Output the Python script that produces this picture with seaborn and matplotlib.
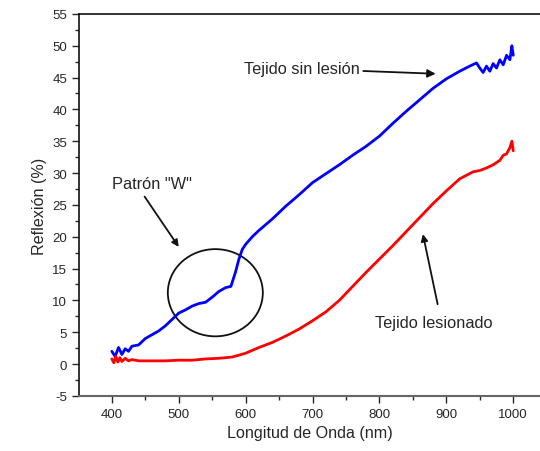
import matplotlib
matplotlib.use("Agg")
import matplotlib.pyplot as plt
from matplotlib.patches import Ellipse
from matplotlib.ticker import MultipleLocator
import seaborn as sns
import pandas as pd

# Tejido sin lesión (blue)
blue_nm = [400, 405, 410, 415, 420, 425, 430, 440, 450, 460, 470, 480, 490, 500,
           510, 520, 530, 540, 550, 560, 570, 578, 585, 590, 595, 600, 610, 620,
           640, 660, 680, 700, 720, 740, 760, 780, 800, 820, 840, 860, 880, 900,
           920, 935, 945, 950, 955, 960, 965, 970, 975, 980, 985, 990, 995, 998, 1000]
blue_val = [2.0, 1.2, 2.6, 1.5, 2.4, 2.0, 2.8, 3.0, 4.0, 4.6, 5.2, 6.0, 7.0, 8.0,
            8.5, 9.1, 9.5, 9.7, 10.5, 11.4, 12.0, 12.2, 14.5, 16.5, 18.0, 18.8, 20.0, 21.0,
            22.8, 24.8, 26.6, 28.5, 29.9, 31.3, 32.8, 34.2, 35.8, 37.8, 39.7, 41.5, 43.3, 44.8,
            46.0, 46.8, 47.3, 46.5, 45.8, 46.8, 46.0, 47.2, 46.5, 47.8, 47.0, 48.5, 47.8, 50.0, 48.5]

# Tejido lesionado (red)
red_nm = [400, 403, 406, 409, 412, 415, 420, 425, 430, 440, 460, 480, 500, 520,
          540, 560, 580, 600, 620, 640, 660, 680, 700, 720, 740, 760, 780, 800,
          820, 840, 860, 880, 900, 920, 940, 950, 960, 970, 980, 985, 990, 995, 998, 1000]
red_val = [0.8, 0.2, 1.2, 0.3, 1.0, 0.4, 0.9, 0.5, 0.7, 0.5, 0.5, 0.5, 0.6, 0.6,
           0.8, 0.9, 1.1, 1.7, 2.6, 3.4, 4.4, 5.5, 6.8, 8.2, 10.0, 12.2, 14.4, 16.5,
           18.6, 20.8, 23.0, 25.2, 27.2, 29.1, 30.2, 30.4, 30.8, 31.3, 32.0, 32.8, 33.0, 34.0, 35.0, 33.5]

x_ticks = [400, 500, 600, 700, 800, 900, 1000]
y_ticks = [-5, 0, 5, 10, 15, 20, 25, 30, 35, 40, 45, 50, 55]

sns.set_style("ticks")
plt.rcParams['font.family'] = ['Liberation Sans', 'DejaVu Sans']
plt.rcParams['axes.unicode_minus'] = False

df = pd.concat([
    pd.DataFrame({"nm": blue_nm, "R": blue_val, "s": "Tejido sin lesión"}),
    pd.DataFrame({"nm": red_nm, "R": red_val, "s": "Tejido lesionado"}),
])

fig = plt.figure(figsize=(5.4, 4.52), dpi=100)
ax = fig.add_axes([0.146, 0.122, 0.854, 0.845])
sns.lineplot(data=df, x="nm", y="R", hue="s", palette={"Tejido sin lesión": "#0000ff",
             "Tejido lesionado": "#ff0000"}, linewidth=2, legend=False, ax=ax,
             estimator=None, sort=False)

ax.set_xlim(350.7, 1040)
ax.set_ylim(-5, 55)
ax.set_xticks(x_ticks)
ax.set_yticks(y_ticks)
ax.xaxis.set_minor_locator(MultipleLocator(50))
ax.yaxis.set_minor_locator(MultipleLocator(2.5))
ax.tick_params(which='major', length=5, width=1, labelsize=9.5, direction='out')
ax.tick_params(which='minor', length=3, width=1, direction='out')
ax.spines['right'].set_visible(False)
for s in ['left', 'top']:
    ax.spines[s].set_linewidth(1.2)
    ax.spines[s].set_color('#111111')
ax.spines['bottom'].set_linewidth(1.5)
ax.spines['bottom'].set_color('#666666')
ax.set_xlabel("Longitud de Onda (nm)", fontsize=11.6)
ax.set_ylabel("Reflexión (%)", fontsize=11.6)

ax.add_patch(Ellipse((554.7, 11.2), 142, 13.7, fill=False, edgecolor='#111111', linewidth=1.3))

ax.text(460, 28.3, 'Patrón "W"', fontsize=11.8, ha='center', va='center')
ax.annotate('', xy=(500, 18.4), xytext=(449, 26.3),
            arrowprops=dict(arrowstyle='-|>', color='#111111', lw=1.3, shrinkA=0, shrinkB=0))
ax.annotate('Tejido sin lesión', xy=(884, 45.6), xytext=(771, 46.4), fontsize=11.8,
            ha='right', va='center',
            arrowprops=dict(arrowstyle='-|>', color='#111111', lw=1.3, shrinkA=0, shrinkB=0))
ax.annotate('', xy=(865, 20.4), xytext=(887, 9.4),
            arrowprops=dict(arrowstyle='-|>', color='#111111', lw=1.3, shrinkA=0, shrinkB=0))
ax.text(881, 6.6, 'Tejido lesionado', fontsize=11.8, ha='center', va='center')

fig.savefig("out.png", dpi=100)
